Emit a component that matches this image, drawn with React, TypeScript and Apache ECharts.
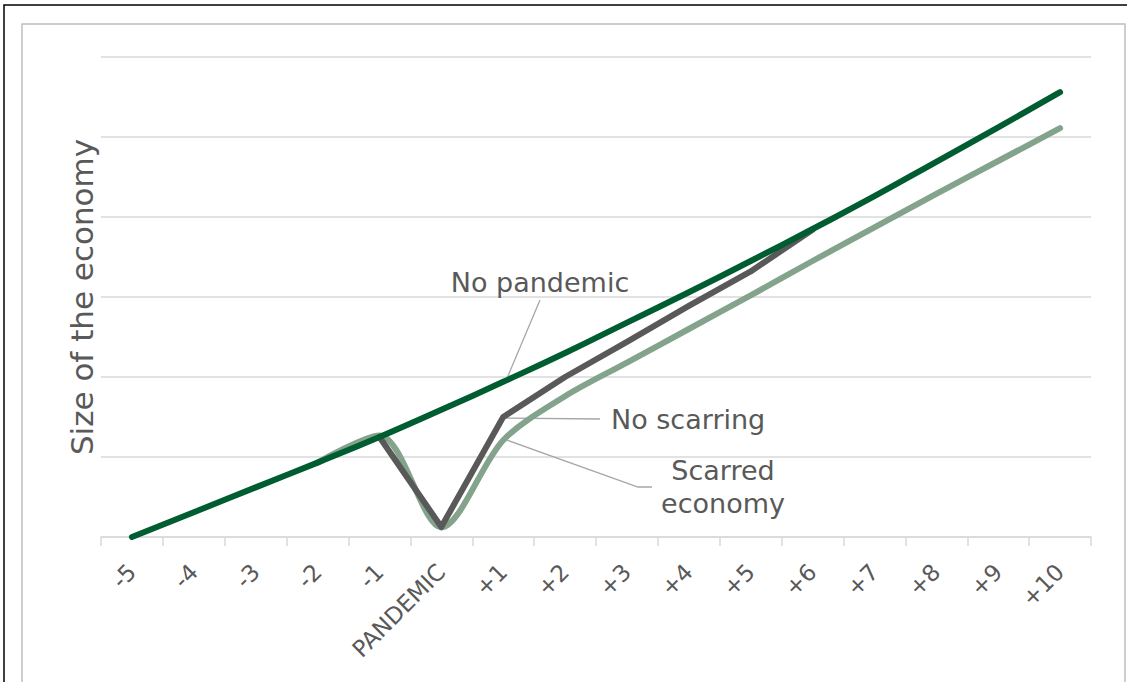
import React, { useEffect, useRef } from "react";
import * as echarts from "echarts";

const categories = ["-5", "-4", "-3", "-2", "-1", "PANDEMIC", "+1", "+2", "+3", "+4", "+5", "+6", "+7", "+8", "+9", "+10"];
const noPandemic = [0, 0.31, 0.62, 0.93, 1.25, 1.59, 1.94, 2.3, 2.68, 3.06, 3.45, 3.85, 4.26, 4.69, 5.12, 5.56];
const noScarring = [null, null, null, null, 1.25, 0.125, 1.5, 2.0, 2.44, 2.89, 3.32, 3.84, null, null, null, null];
const scarred = [null, null, null, 0.93, 1.27, 0.12, 1.21, 1.76, 2.18, 2.6, 3.02, 3.45, 3.87, 4.29, 4.7, 5.11];
const yTicks = [0, 1, 2, 3, 4, 5, 6];

const FONT = "DejaVu Sans";
const TXT = "#595959";
const LEAD = "#a6a6a6";

export default function App() {
  const ref = useRef<HTMLDivElement>(null);
  useEffect(() => {
    const chart = echarts.init(ref.current!, null, { renderer: "svg" });
    chart.setOption({
      animation: false,
      grid: { left: 101, right: 36, top: 57, bottom: 145 },
      xAxis: {
        type: "category",
        data: categories,
        boundaryGap: true,
        axisLine: { lineStyle: { color: "#d9d9d9", width: 1.5 } },
        axisTick: { show: true, length: 9, lineStyle: { color: "#d9d9d9", width: 1.5 } },
        axisLabel: { rotate: 45, fontFamily: FONT, fontSize: 23, color: TXT, margin: 31, interval: 0 },
      },
      yAxis: {
        type: "value",
        min: yTicks[0],
        max: yTicks[yTicks.length - 1],
        interval: 1,
        axisLabel: { show: false },
        axisLine: { show: false },
        axisTick: { show: false },
        splitLine: { lineStyle: { color: "#d9d9d9", width: 1.5 } },
        name: "Size of the economy",
        nameLocation: "middle",
        nameGap: 4,
        nameTextStyle: { fontFamily: FONT, fontSize: 31, color: TXT },
      },
      series: [
        {
          name: "Scarred economy",
          type: "line",
          data: scarred,
          smooth: 0.3,
          showSymbol: false,
          lineStyle: { color: "#84a38c", width: 6, cap: "round", join: "round" },
        },
        {
          name: "No scarring",
          type: "line",
          data: noScarring,
          smooth: false,
          showSymbol: false,
          lineStyle: { color: "#595959", width: 6, cap: "round", join: "round" },
        },
        {
          name: "No pandemic",
          type: "line",
          data: noPandemic,
          smooth: true,
          showSymbol: false,
          lineStyle: { color: "#005c31", width: 6, cap: "round", join: "round" },
        },
      ],
    });
    const p1 = chart.convertToPixel({ xAxisIndex: 0, yAxisIndex: 0 }, [6, noScarring[6] as number]);
    const p2 = chart.convertToPixel({ xAxisIndex: 0, yAxisIndex: 0 }, [6, scarred[6] as number]);
    chart.setOption({
      graphic: [
        { type: "rect", shape: { x: 4, y: 5, width: 1400, height: 1000 }, style: { fill: "none", stroke: "#000", lineWidth: 1.5 }, silent: true },
        { type: "rect", shape: { x: 22, y: 24, width: 1103, height: 1000 }, style: { fill: "none", stroke: "#bfbfbf", lineWidth: 1.5 }, silent: true },
        { type: "text", x: 540, y: 282, style: { text: "No pandemic", font: `27px '${FONT}'`, fill: TXT, align: "center", verticalAlign: "middle" } },
        { type: "line", shape: { x1: 540, y1: 300, x2: 505, y2: 383 }, style: { stroke: LEAD, lineWidth: 1.3 } },
        { type: "text", x: 611, y: 419, style: { text: "No scarring", font: `27px '${FONT}'`, fill: TXT, align: "left", verticalAlign: "middle" } },
        { type: "line", shape: { x1: 600, y1: 419, x2: p1[0] + 2, y2: p1[1] + 1 }, style: { stroke: LEAD, lineWidth: 1.3 } },
        { type: "text", x: 723, y: 487, style: { text: "Scarred\neconomy", font: `27px '${FONT}'`, fill: TXT, align: "center", verticalAlign: "middle", lineHeight: 33 } },
        { type: "polyline", shape: { points: [[652, 487], [638, 487], [p2[0] + 4, p2[1]]] }, style: { stroke: LEAD, lineWidth: 1.3, fill: "none" } },
      ],
    });
    return () => chart.dispose();
  }, []);
  return <div ref={ref} style={{ position: "fixed", left: 0, top: 0, width: 1127, height: 682, background: "#fff" }} />;
}
